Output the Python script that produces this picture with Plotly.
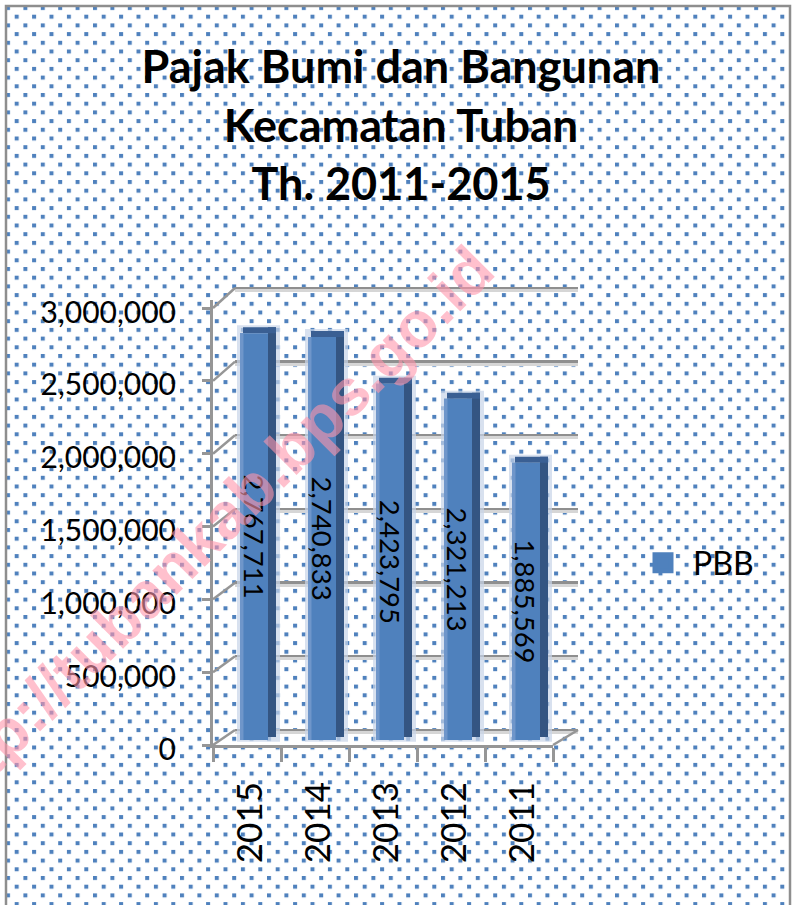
import base64
import plotly.graph_objects as go

# ---------------- data ----------------
years = ["2015", "2014", "2013", "2012", "2011"]
pbb = [2767711, 2740833, 2423795, 2321213, 1885569]
y_ticks = [0, 500000, 1000000, 1500000, 2000000, 2500000, 3000000]
y_tick_labels = ["0", "500,000", "1,000,000", "1,500,000", "2,000,000", "2,500,000", "3,000,000"]
value_labels = [f"{v:,}" for v in pbb]
title_lines = ["Pajak Bumi dan Bangunan", "Kecamatan Tuban", "Th. 2011-2015"]
series_name = "PBB"
watermark = "http://tubankab.bps.go.id"

# ---------------- geometry / style ----------------
W, H = 792, 905
def px(x): return x / W
def py(y): return 1 - y / H

BLUE = "#4F81BD"
GREY = "#969696"
FONT = "Lato"

# front plane (tick labels, floor line)
F_L, F_R, F_TOP, F_ZERO, F_TOPV = 213, 553, 300, 745, 308
f_k = (F_ZERO - F_TOPV) / 3e6
# bar plane
B_ZERO, b_k = 740, 147e-6
# back wall
K_L, K_R, K_ZERO, K_3M = 235, 578, 730, 288
k_k = (K_ZERO - K_3M) / 3e6
K_TOP, K_BOT = 280, 738

def front_px(v): return F_ZERO - v * f_k
def back_px(v): return K_ZERO - v * k_k
def bar_to_front(v):  # bar-plane value -> front-axis value (same screen height)
    return (F_ZERO - (B_ZERO - v * b_k)) / f_k

# background dotted pattern
svg = f'''<svg xmlns="http://www.w3.org/2000/svg" width="{W}" height="{H}" viewBox="0 0 {W} {H}">
<defs><pattern id="p" patternUnits="userSpaceOnUse" x="14.7" y="14.7" width="17.4" height="17.4">
<rect x="0" y="0" width="4" height="4" fill="{BLUE}"/><rect x="8.7" y="8.7" width="4" height="4" fill="{BLUE}"/></pattern></defs>
<rect x="7" y="7" width="782" height="{H}" fill="url(#p)"/></svg>'''
src = "data:image/svg+xml;base64," + base64.b64encode(svg.encode()).decode()

fig = go.Figure()

# dummy traces to create back-wall subplot axes
fig.add_trace(go.Scatter(x=[None], y=[None], xaxis="x", yaxis="y", showlegend=False, hoverinfo="skip"))
fig.add_trace(go.Scatter(x=[None], y=[None], xaxis="x", yaxis="y4", showlegend=False, hoverinfo="skip"))

slot = (F_R - F_L) / 5.0
def off(p0):  # pixel offset from slot centre -> category units
    return p0 / slot

d_side_base = 3 / b_k
d_cap = 6 / b_k

# halo
fig.add_trace(go.Bar(x=years, y=[v + d_cap + 2 / b_k + 12000 for v in pbb], base=[-12000] * 5,
                     offset=off(-10), width=off(43), marker=dict(color="rgba(200,212,232,0.7)", line_width=0),
                     xaxis="x2", yaxis="y3", showlegend=False, hoverinfo="skip"))
# side face
fig.add_trace(go.Bar(x=years, y=[v + d_cap - d_side_base for v in pbb], base=[d_side_base] * 5,
                     offset=off(21), width=off(8), marker=dict(color="#345582", line_width=0),
                     xaxis="x2", yaxis="y3", showlegend=False, hoverinfo="skip"))
# top cap
fig.add_trace(go.Bar(x=years, y=[d_cap] * 5, base=pbb,
                     offset=off(-4), width=off(33), marker=dict(color="#3A5F93", line_width=0),
                     xaxis="x2", yaxis="y3", showlegend=False, hoverinfo="skip"))
# front face
fig.add_trace(go.Bar(x=years, y=pbb, name=series_name,
                     offset=off(-7), width=off(28), marker=dict(color=BLUE, line_width=0),
                     xaxis="x2", yaxis="y3", showlegend=False))
# front highlight
fig.add_trace(go.Bar(x=years, y=pbb,
                     offset=off(-7), width=off(3.5), marker=dict(color="#6F96CA", line_width=0),
                     xaxis="x2", yaxis="y3", showlegend=False, hoverinfo="skip"))
# legend proxy
fig.add_trace(go.Scatter(x=[None], y=[None], mode="markers", name=series_name,
                         marker=dict(symbol="square", size=16, color=BLUE, line=dict(color=BLUE, width=5)),
                         xaxis="x2", yaxis="y2", showlegend=True))

shapes = []
for v in y_ticks:
    shapes.append(dict(type="line", xref="paper", yref="paper",
                       x0=px(F_L), y0=py(front_px(v)), x1=px(K_L), y1=py(back_px(v)),
                       line=dict(color=GREY, width=2.5)))
shapes.append(dict(type="line", xref="paper", yref="paper",
                   x0=px(F_R), y0=py(F_ZERO), x1=px(K_R), y1=py(K_ZERO),
                   line=dict(color=GREY, width=2.5)))
shapes.append(dict(type="rect", xref="paper", yref="paper",
                   x0=px(6), y0=py(6), x1=px(790), y1=py(H + 10),
                   line=dict(color="#8E8E8E", width=2.5), fillcolor="rgba(0,0,0,0)"))

annotations = []
for i, (v, t) in enumerate(zip(pbb, value_labels)):
    annotations.append(dict(x=i, y=bar_to_front(v / 2), xref="x2", yref="y2", text=t, textangle=90,
                            xanchor="center", yanchor="middle",
                            showarrow=False, xshift=7, font=dict(family=FONT, size=27.5, color="black")))
annotations.append(dict(x=px(207), y=py(532), xref="paper", yref="paper", text=watermark,
                        textangle=-45, showarrow=False, xanchor="center", yanchor="middle",
                        font=dict(family="Liberation Sans", size=65, weight="bold",
                                  color="rgba(255,150,172,0.6)")))

fig.update_layout(
    width=W, height=H, autosize=False,
    margin=dict(l=0, r=0, t=0, b=0, pad=0, autoexpand=False),
    paper_bgcolor="white", plot_bgcolor="rgba(0,0,0,0)",
    barmode="overlay", hovermode=False,
    title=dict(text="<br>".join(title_lines), x=px(401), xanchor="center", xref="paper",
               y=py(83), yanchor="top", yref="paper", automargin=False,
               font=dict(family=FONT, size=45, weight="bold", color="black")),
    xaxis=dict(domain=[px(K_L), px(K_R)], range=[0, 1], visible=False, anchor="y", automargin=False),
    yaxis=dict(domain=[py(K_BOT), py(K_TOP)],
               range=[(K_ZERO - K_BOT) / k_k, (K_ZERO - K_TOP) / k_k],
               tickvals=y_ticks, showticklabels=False, ticks="", showline=False, automargin=False,
               showgrid=True, gridcolor="#8F8F8F", gridwidth=2.5, zeroline=False, anchor="x"),
    yaxis4=dict(overlaying="y", anchor="x", automargin=False,
                range=[(K_ZERO + 2.5 - K_BOT) / k_k, (K_ZERO + 2.5 - K_TOP) / k_k],
                tickvals=y_ticks, showticklabels=False, ticks="", showline=False,
                showgrid=True, gridcolor="#D6D6D6", gridwidth=2.5, zeroline=False),
    xaxis2=dict(domain=[px(F_L), px(F_R)], type="category", categoryorder="array",
                categoryarray=years, range=[-0.5, 4.5], anchor="y2", automargin=False,
                tickson="boundaries", ticks="outside", ticklen=14, tickwidth=2.5, tickcolor=GREY,
                showline=True, linecolor=GREY, linewidth=3, showgrid=False, zeroline=False,
                tickangle=-90, ticklabelstandoff=20, ticklabelshift=4,
                tickfont=dict(family=FONT, size=35, color="black")),
    yaxis2=dict(domain=[py(F_ZERO), py(F_TOP)], range=[0, (F_ZERO - F_TOP) / f_k], anchor="x2",
                automargin=False,
                tickvals=y_ticks, ticktext=y_tick_labels, ticks="outside", ticklen=8,
                tickwidth=2.5, tickcolor=GREY, showline=True, linecolor=GREY, linewidth=3,
                showgrid=False, zeroline=False, ticklabelstandoff=20, ticklabelshift=4,
                tickfont=dict(family=FONT, size=30, color="black")),
    yaxis3=dict(overlaying="y2", anchor="x2", automargin=False,
                range=[(B_ZERO - F_ZERO) * 1e6 / 147, (B_ZERO - F_TOP) * 1e6 / 147],
                visible=False, showgrid=False, zeroline=False),
    legend=dict(x=px(633), y=py(563), xanchor="left", yanchor="middle", itemwidth=50,
                bgcolor="rgba(0,0,0,0)", borderwidth=0,
                font=dict(family=FONT, size=32, color="black")),
    shapes=shapes,
    annotations=annotations,
    images=[dict(source=src, xref="paper", yref="paper", x=0, y=1, sizex=1, sizey=1,
                 xanchor="left", yanchor="top", sizing="stretch", layer="below")],
)

fig.write_html("out.html")
